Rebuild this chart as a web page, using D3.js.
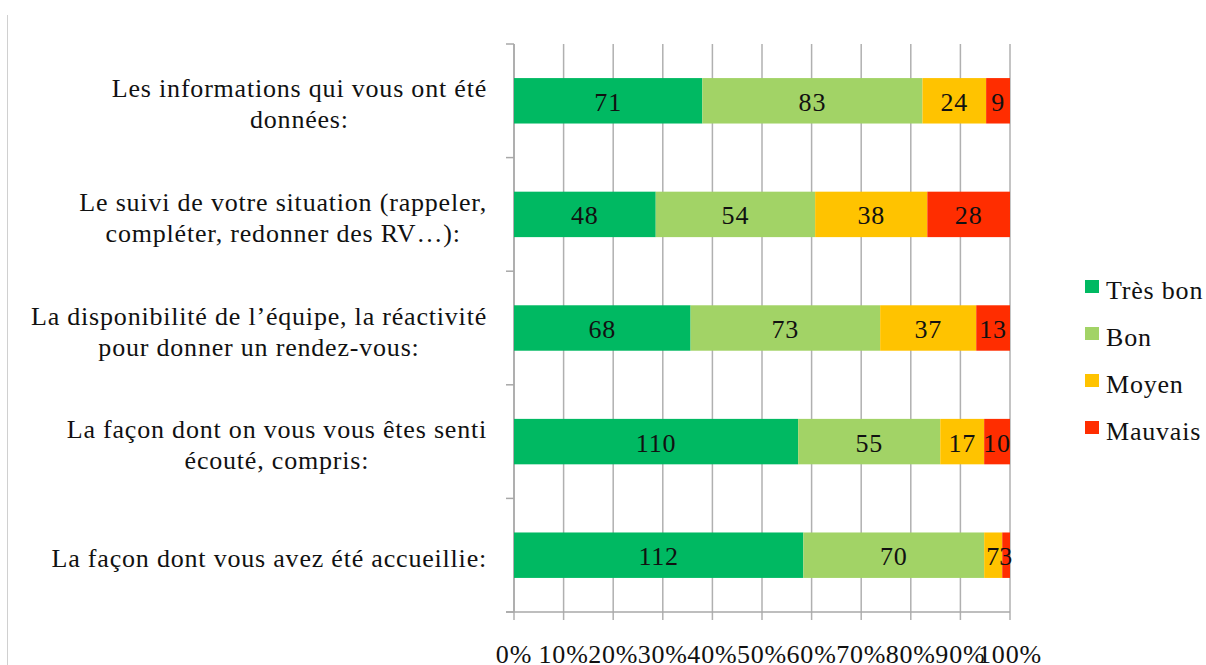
<!DOCTYPE html>
<html><head><meta charset="utf-8">
<script src="https://cdn.jsdelivr.net/npm/d3@7"></script>
<style>body{margin:0;background:#fff}svg{display:block}</style>
</head><body>
<svg id="c" width="1206" height="665"></svg>
<script>
const categories = [
  ["Les informations qui vous ont été", "données:"],
  ["Le suivi de votre situation (rappeler,", "compléter, redonner des RV…):"],
  ["La disponibilité de l’équipe, la réactivité", "pour donner un rendez-vous:"],
  ["La façon dont on vous vous êtes senti", "écouté, compris:"],
  ["La façon dont vous avez été accueillie:"]
];
const seriesNames = ["Très bon", "Bon", "Moyen", "Mauvais"];
const tresBon = [71, 48, 68, 110, 112];
const bon = [83, 54, 73, 55, 70];
const moyen = [24, 38, 37, 17, 7];
const mauvais = [9, 28, 13, 10, 3];
const tickValues = [0, .1, .2, .3, .4, .5, .6, .7, .8, .9, 1];
const colors = ["#00b962", "#a2d366", "#ffc300", "#ff2d00"];

const FONT = "'Liberation Serif', 'DejaVu Serif', serif";
const FS = 26;
const LS = 0.8;
const svg = d3.select("#c");
const L = 514, R = 1010, T = 44, B = 612;
const x = d3.scaleLinear().domain([0, 1]).range([L, R]);
const y = d3.scaleBand().domain(d3.range(categories.length)).range([T, B]).paddingInner(0.6).paddingOuter(0.3);
const yb = d3.scaleBand().domain(d3.range(categories.length)).range([T, B]);

// frame line on left
svg.append("line").attr("x1", 7.5).attr("x2", 7.5).attr("y1", 15).attr("y2", 665).attr("stroke", "#d0d0d0").attr("stroke-width", 1);

// gridlines
svg.append("g").selectAll("line").data(tickValues).join("line")
  .attr("x1", d => x(d)).attr("x2", d => x(d)).attr("y1", T).attr("y2", B + 8)
  .attr("stroke", "#b0b0b0").attr("stroke-width", 1.5);

// left axis
svg.append("line").attr("x1", L).attr("x2", L).attr("y1", T).attr("y2", B).attr("stroke", "#a8a8a8").attr("stroke-width", 1.5);
const bounds = d3.range(categories.length + 1).map(i => i === categories.length ? B : yb(i));
svg.append("g").selectAll("line").data(bounds).join("line")
  .attr("x1", L - 8).attr("x2", L).attr("y1", d => d).attr("y2", d => d)
  .attr("stroke", "#a8a8a8").attr("stroke-width", 1.5);
// bottom axis
svg.append("line").attr("x1", L - 8).attr("x2", R).attr("y1", B).attr("y2", B).attr("stroke", "#a8a8a8").attr("stroke-width", 1.5);

// stack
const rows = categories.map((c, i) => ({i, v: [tresBon[i], bon[i], moyen[i], mauvais[i]]}));
const segs = [];
rows.forEach(r => {
  const tot = d3.sum(r.v);
  let acc = 0;
  r.v.forEach((v, k) => { segs.push({i: r.i, k, v, x0: acc / tot, x1: (acc + v) / tot}); acc += v; });
});
const g = svg.append("g");
g.selectAll("rect").data(segs).join("rect")
  .attr("x", d => x(d.x0)).attr("width", d => x(d.x1) - x(d.x0))
  .attr("y", d => y(d.i)).attr("height", y.bandwidth())
  .attr("fill", d => colors[d.k]);
g.selectAll("text").data(segs).join("text")
  .attr("x", d => (x(d.x0) + x(d.x1)) / 2).attr("y", d => y(d.i) + y.bandwidth() / 2 + 10)
  .attr("text-anchor", "middle").attr("font-family", FONT).attr("font-size", FS).attr("fill", "#111")
  .attr("letter-spacing", LS)
  .text(d => d.v);

// category labels
const lg = svg.append("g");
categories.forEach((lines, i) => {
  const cy = yb(i) + yb.bandwidth() / 2;
  const lh = 31;
  const n = lines.length;
  const ts = lines.map((t, j) => lg.append("text").attr("font-family", FONT).attr("font-size", FS).attr("fill", "#111")
    .attr("letter-spacing", LS)
    .attr("text-anchor", "middle").attr("y", cy + (j - (n - 1) / 2) * lh + 12).text(t));
  const w = d3.max(ts, t => t.node().getComputedTextLength());
  ts.forEach(t => t.attr("x", 487 - w / 2));
});

// x tick labels
svg.append("g").selectAll("text").data(tickValues).join("text")
  .attr("x", d => x(d)).attr("y", 663).attr("text-anchor", "middle")
  .attr("font-family", FONT).attr("font-size", FS).attr("fill", "#111")
  .attr("letter-spacing", LS)
  .text(d3.format(".0%"));

// legend
const leg = svg.append("g");
seriesNames.forEach((s, k) => {
  const ly = 299 + k * 47;
  leg.append("rect").attr("x", 1085).attr("y", ly - 19).attr("width", 14).attr("height", 13).attr("fill", colors[k]);
  leg.append("text").attr("x", 1106).attr("y", ly).attr("font-family", FONT).attr("font-size", FS).attr("fill", "#111")
    .attr("letter-spacing", LS).text(s);
});
</script>
</body></html>
